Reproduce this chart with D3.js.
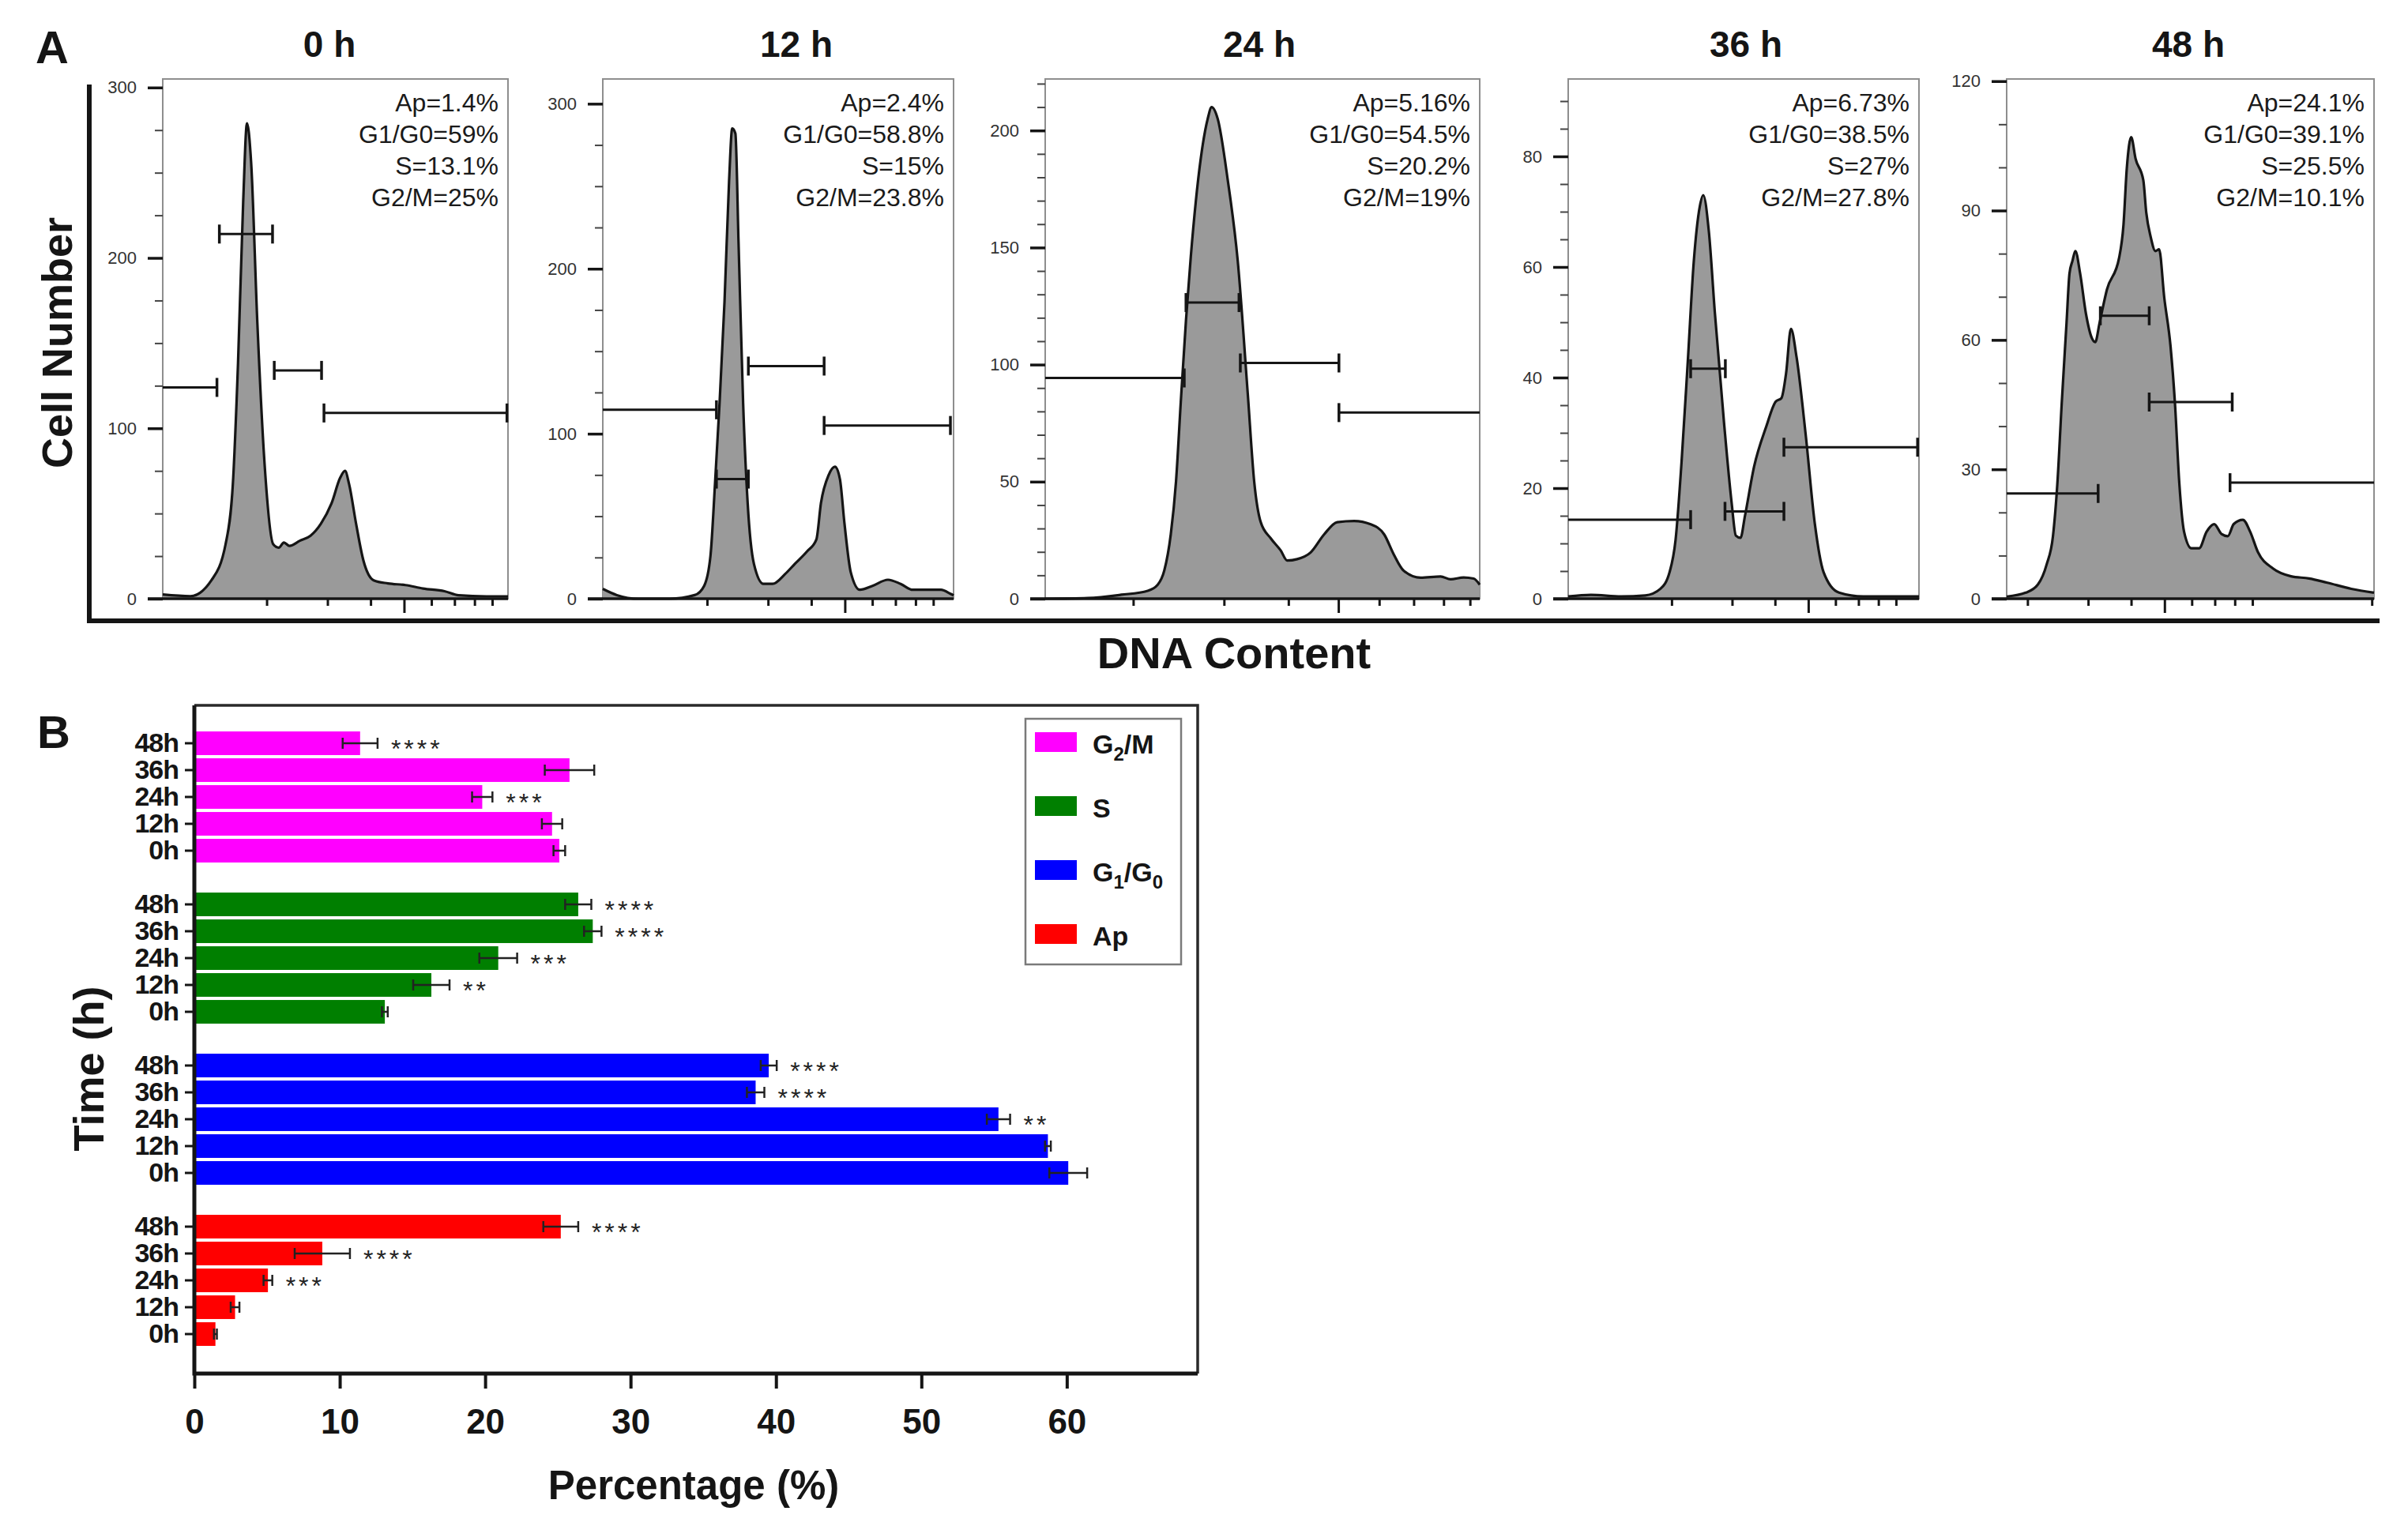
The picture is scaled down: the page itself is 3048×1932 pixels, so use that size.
<!DOCTYPE html>
<html>
<head>
<meta charset="utf-8">
<script src="https://cdn.jsdelivr.net/npm/d3@7"></script>
<style>
body { margin: 0; background: #fff; }
text { font-family: "Liberation Sans", Arial, Helvetica, sans-serif; }
</style>
</head>
<body>
<div id="chart"></div>
<script>
// ---------- data: panel A (flow cytometry histograms) ----------
// x = channel 0-1000 (log display), y = cell count
const timeLabels = ["0 h", "12 h", "24 h", "36 h", "48 h"];

const hist0h = [[0,2.5],[80,1.5],[141,10.8],[182,32],[203,67],[218,138],[233,233],[244,279],[256,256],[274,162],[295,79],[320,32],[336,30],[351,33],[367,31],[397,34],[428,37],[458,44],[489,56],[514,71],[528,75],[540,67],[560,44],[581,22.6],[611,10.8],[652,9],[703,8],[754,6],[816,4.4],[857,2],[938,1.4],[1000,1.4]];
const hist12h = [[0,6],[40,2.2],[102,0],[191,0],[262,2.2],[289,7.8],[307,26],[320,70],[333,119],[347,180],[360,253],[369,285],[378,282],[387,216],[400,119],[413,58],[431,21],[458,9],[484,9],[520,15],[547,21],[582,28.6],[609,36],[622,58],[644,75],[662,80],[676,72.5],[689,45.6],[707,16],[733,5.4],[769,7.8],[813,11.5],[849,9],[884,5.4],[929,5.4],[964,5.4],[991,3],[1000,2]];
const hist24h = [[0,0],[98,0.3],[175,1.7],[236,3.4],[259,6],[274,12],[289,27.5],[301,50],[312,84],[324,119],[335,146],[358,188],[374,205],[383,210],[397,205],[420,179],[443,144.5],[466,88],[481,50],[496,32.7],[519,25.8],[542,20.6],[557,16.3],[580,16.9],[611,19.8],[642,27.5],[672,32.7],[711,33.2],[749,31.8],[780,27.5],[802,19],[825,12],[864,9],[910,9.5],[933,8.3],[963,9.1],[986,8.6],[1000,6]];
const hist36h = [[0,0.4],[65,0.7],[151,0.4],[220,0.6],[263,1.8],[289,4.8],[306,10.6],[323,24.6],[341,43],[358,61],[375,70.9],[385,73],[401,66.4],[418,51.8],[444,32],[466,17.3],[478,11.4],[491,11],[504,15],[530,23.9],[565,31.2],[591,35.6],[608,36.3],[621,40.7],[635,48.8],[651,43.7],[677,29.7],[703,13.6],[728,4.8],[772,1.1],[841,0.4],[1000,0.4]];
const hist48h = [[0,0.5],[52,1.4],[85,3.3],[109,8],[126,14.5],[138,26.7],[150,45.5],[163,64],[171,75.4],[179,78.3],[187,80.6],[200,75.4],[216,66],[232,60.4],[241,59.5],[253,64],[273,71.7],[306,79],[318,86.7],[327,99.8],[339,107],[351,102],[372,97],[380,89.5],[392,83.9],[405,80.6],[415,81],[429,69.8],[446,58.6],[458,45.5],[470,26.7],[483,15.5],[503,11.7],[524,11.7],[544,15.5],[565,17.3],[585,15],[602,14.5],[618,17.3],[643,18.3],[663,15.5],[684,10.8],[725,7],[774,5.2],[823,4.7],[873,3.7],[938,2.3],[1000,1.4]];

// gates: [start channel, end channel, height in counts]  (Ap, G1/G0, S, G2/M)
const gates0h = [[0,157,124],[164,318,214],[323,460,134],[467,997,109]];
const gates12h = [[0,324,114.5],[324,415,72.5],[415,631,141],[631,991,105]];
const gates24h = [[0,320,94.3],[324,446,126.5],[449,676,100.7],[676,1000,79.5]];
const gates36h = [[0,349,14.3],[349,448,41.6],[447,615,15.8],[615,996,27.4]];
const gates48h = [[0,249,24.4],[255,388,65.6],[388,614,45.6],[608,1000,26.9]];

const stats0h = ["Ap=1.4%", "G1/G0=59%", "S=13.1%", "G2/M=25%"];
const stats12h = ["Ap=2.4%", "G1/G0=58.8%", "S=15%", "G2/M=23.8%"];
const stats24h = ["Ap=5.16%", "G1/G0=54.5%", "S=20.2%", "G2/M=19%"];
const stats36h = ["Ap=6.73%", "G1/G0=38.5%", "S=27%", "G2/M=27.8%"];
const stats48h = ["Ap=24.1%", "G1/G0=39.1%", "S=25.5%", "G2/M=10.1%"];

const yMaxA = [305, 315, 222, 94, 120.5];
const yTicksA = [[0,100,200,300],[0,100,200,300],[0,50,100,150,200],[0,20,40,60,80],[0,30,60,90,120]];
const yMinorStepA = [25, 25, 10, 5, 10];
const dnaDomain = [[1,10],[1,10.3],[1.35,9.4],[1,10.5],[1.74,20.3]];
const dnaTicks = [2,3,4,5,6,7,8,9,20];

// ---------- data: panel B (percentages, mean and error) ----------
const timesB = ["48h", "36h", "24h", "12h", "0h"];
const phaseKeys = ["G2/M", "S", "G1/G0", "Ap"];
const g2mMean = [11.4, 25.8, 19.8, 24.6, 25.1];
const g2mErr = [1.2, 1.7, 0.7, 0.7, 0.4];
const g2mStars = ["****", "", "***", "", ""];
const sMean = [26.4, 27.4, 20.9, 16.3, 13.1];
const sErr = [0.9, 0.6, 1.3, 1.25, 0.2];
const sStars = ["****", "****", "***", "**", ""];
const g1Mean = [39.5, 38.6, 55.3, 58.7, 60.1];
const g1Err = [0.55, 0.6, 0.8, 0.2, 1.3];
const g1Stars = ["****", "****", "**", "", ""];
const apMean = [25.2, 8.8, 5.06, 2.8, 1.45];
const apErr = [1.2, 1.9, 0.3, 0.3, 0.1];
const apStars = ["****", "****", "***", "", ""];
const xTicksB = [0, 10, 20, 30, 40, 50, 60];

// ---------- layout / style ----------
const svgWidth = 3048, svgHeight = 1932;
const boxTop = 100, boxBottom = 758;
const boxesA = [
    { x0: 206, x1: 643, tx: 417 },
    { x0: 763, x1: 1207, tx: 1008 },
    { x0: 1323, x1: 1873, tx: 1594 },
    { x0: 1985, x1: 2429, tx: 2210 },
    { x0: 2540, x1: 3005, tx: 2770 }
];
const phaseColors = ["#ff00ff", "#007f00", "#0000ff", "#ff0000"];
const ink = "#151515";

let svg = d3.select("#chart").append("svg")
    .attr("width", svgWidth)
    .attr("height", svgHeight)
    .style("background", "#fff");

// ================= panel A =================
const histsA = [hist0h, hist12h, hist24h, hist36h, hist48h];
const gatesA = [gates0h, gates12h, gates24h, gates36h, gates48h];
const statsA = [stats0h, stats12h, stats24h, stats36h, stats48h];

boxesA.forEach((b, i) => {
    let g = svg.append("g");
    let x = d3.scaleLinear().domain([0, 1000]).range([b.x0, b.x1]);
    let xLog = d3.scaleLog().domain(dnaDomain[i]).range([b.x0, b.x1]);
    let y = d3.scaleLinear().domain([0, yMaxA[i]]).range([boxBottom, boxTop]);

    // frame
    g.append("rect")
        .attr("x", b.x0).attr("y", boxTop)
        .attr("width", b.x1 - b.x0).attr("height", boxBottom - boxTop)
        .attr("fill", "none").attr("stroke", "#8e8e8e").attr("stroke-width", 2);

    // histogram
    let area = d3.area()
        .x((d) => x(d[0])).y0(y(0)).y1((d) => y(d[1]))
        .curve(d3.curveMonotoneX);
    let line = d3.line()
        .x((d) => x(d[0])).y((d) => y(d[1]))
        .curve(d3.curveMonotoneX);
    g.append("path").datum(histsA[i]).attr("d", area).attr("fill", "#9a9a9a");
    g.append("path").datum(histsA[i]).attr("d", line)
        .attr("fill", "none").attr("stroke", ink).attr("stroke-width", 3.2)
        .attr("stroke-linejoin", "round");

    // gates
    gatesA[i].forEach((gt) => {
        let gy = y(gt[2]);
        g.append("line")
            .attr("x1", x(gt[0])).attr("x2", x(gt[1]))
            .attr("y1", gy).attr("y2", gy)
            .attr("stroke", ink).attr("stroke-width", 3);
        [gt[0], gt[1]].filter((c) => c > 0 && c < 1000).forEach((c) => {
            g.append("line")
                .attr("x1", x(c)).attr("x2", x(c))
                .attr("y1", gy - 12).attr("y2", gy + 12)
                .attr("stroke", ink).attr("stroke-width", 3.5);
        });
    });

    // y axis: major + minor ticks
    let minor = d3.range(0, yMaxA[i], yMinorStepA[i]).filter((v) => !yTicksA[i].includes(v));
    let yMinorAxis = g.append("g")
        .attr("transform", `translate(${b.x0},0)`)
        .call(d3.axisLeft(y).tickValues(minor).tickSize(10).tickFormat(""));
    yMinorAxis.select(".domain").remove();
    yMinorAxis.selectAll("text").remove();
    yMinorAxis.selectAll("line").attr("stroke", "#444").attr("stroke-width", 2);

    let yAxis = g.append("g")
        .attr("transform", `translate(${b.x0},0)`)
        .call(d3.axisLeft(y).tickValues(yTicksA[i]).tickSize(19).tickPadding(14));
    yAxis.select(".domain").remove();
    yAxis.selectAll("line").attr("stroke", ink).attr("stroke-width", 3.5);
    yAxis.selectAll("text")
        .attr("font-size", 22).attr("fill", "#333")
        .attr("font-family", '"Liberation Sans", Arial, sans-serif');

    // x axis (log display)
    let xAxis = g.append("g")
        .attr("transform", `translate(0,${boxBottom})`)
        .call(d3.axisBottom(xLog)
            .tickValues(dnaTicks.filter((v) => v > dnaDomain[i][0] && v <= dnaDomain[i][1]))
            .tickSize(9).tickFormat(""));
    xAxis.select(".domain").remove();
    xAxis.selectAll("text").remove();
    xAxis.selectAll("line").attr("stroke", ink).attr("stroke-width", 3);
    xAxis.selectAll(".tick").filter((d) => d === 5).select("line").attr("y2", 18);

    g.append("line")
        .attr("x1", b.x0 - 19).attr("x2", b.x1)
        .attr("y1", boxBottom).attr("y2", boxBottom)
        .attr("stroke", ink).attr("stroke-width", 3.5);

    // stats text
    g.selectAll(".stat")
        .data(statsA[i])
        .join("text")
        .attr("x", b.x1 - 12)
        .attr("y", (d, k) => 141 + k * 40)
        .attr("text-anchor", "end")
        .attr("font-size", 32)
        .attr("fill", "#1a1a1a")
        .text((d) => d);

    // title
    g.append("text")
        .attr("x", b.tx).attr("y", 72)
        .attr("text-anchor", "middle")
        .attr("font-size", 46).attr("font-weight", "bold")
        .attr("fill", ink)
        .text(timeLabels[i]);
});

// big axes of panel A
svg.append("path")
    .attr("d", "M113,107 V786 H3012")
    .attr("fill", "none").attr("stroke", ink).attr("stroke-width", 6);
svg.append("text")
    .attr("x", 66).attr("y", 80)
    .attr("text-anchor", "middle")
    .attr("font-size", 58).attr("font-weight", "bold").attr("fill", ink)
    .text("A");
svg.append("text")
    .attr("transform", "translate(91,434) rotate(-90)")
    .attr("text-anchor", "middle")
    .attr("font-size", 54).attr("font-weight", "bold").attr("fill", ink)
    .text("Cell Number");
svg.append("text")
    .attr("x", 1562).attr("y", 846)
    .attr("text-anchor", "middle")
    .attr("font-size", 56).attr("font-weight", "bold").attr("fill", ink)
    .text("DNA Content");

// ================= panel B =================
const meansB = [g2mMean, sMean, g1Mean, apMean];
const errsB = [g2mErr, sErr, g1Err, apErr];
const starsB = [g2mStars, sStars, g1Stars, apStars];

let barData = [];
let bandKeys = [];
phaseKeys.forEach((p, pi) => {
    timesB.forEach((t, ti) => {
        let key = p + "|" + t;
        bandKeys.push(key);
        barData.push({ key: key, phase: pi, time: t, mean: meansB[pi][ti], err: errsB[pi][ti], stars: starsB[pi][ti] });
    });
    bandKeys.push(p + "|gap");
});

const plotLeft = 246, plotRight = 1516, plotTop = 893, plotBottom = 1739;
let xB = d3.scaleLinear().domain([0, 69]).range([plotLeft, plotRight]);
let yB = d3.scaleBand().domain(bandKeys).range([924, 1740]).paddingInner(0.12).paddingOuter(0.06);

let gB = svg.append("g");

// frame (top and right)
gB.append("path")
    .attr("d", `M${plotLeft},${plotTop} H${plotRight} V${plotBottom}`)
    .attr("fill", "none").attr("stroke", "#2a2a2a").attr("stroke-width", 3.5);

// bars
gB.selectAll(".bar")
    .data(barData)
    .join("rect")
    .attr("x", xB(0))
    .attr("y", (d) => yB(d.key))
    .attr("width", (d) => xB(d.mean) - xB(0))
    .attr("height", yB.bandwidth())
    .attr("fill", (d) => phaseColors[d.phase]);

// error bars + significance stars
barData.forEach((d) => {
    let cy = yB(d.key) + yB.bandwidth() / 2;
    let xa = xB(d.mean - d.err), xb = xB(d.mean + d.err);
    gB.append("line")
        .attr("x1", xa).attr("x2", xb).attr("y1", cy).attr("y2", cy)
        .attr("stroke", "#222").attr("stroke-width", 2.5);
    [xa, xb].forEach((xe) => {
        gB.append("line")
            .attr("x1", xe).attr("x2", xe).attr("y1", cy - 7).attr("y2", cy + 7)
            .attr("stroke", "#222").attr("stroke-width", 2.5);
    });
    if (d.stars) {
        gB.append("text")
            .attr("x", xb + 17)
            .attr("y", cy + 18)
            .attr("font-size", 32)
            .attr("letter-spacing", 4)
            .attr("fill", "#222")
            .text(d.stars);
    }
});

// axes
let yAxisB = gB.append("g")
    .attr("transform", `translate(${plotLeft},0)`)
    .call(d3.axisLeft(yB)
        .tickValues(bandKeys.filter((k) => !k.endsWith("gap")))
        .tickFormat((k) => k.split("|")[1])
        .tickSize(12).tickPadding(8));
yAxisB.select(".domain").remove();
yAxisB.selectAll("line").attr("stroke", ink).attr("stroke-width", 3);
yAxisB.selectAll("text")
    .attr("font-size", 34).attr("font-weight", "bold").attr("fill", ink)
    .attr("letter-spacing", -1)
    .attr("font-family", '"Liberation Sans", Arial, sans-serif');

let xAxisB = gB.append("g")
    .attr("transform", `translate(0,${plotBottom})`)
    .call(d3.axisBottom(xB).tickValues(xTicksB).tickSize(19).tickPadding(26));
xAxisB.select(".domain").remove();
xAxisB.selectAll("line").attr("stroke", ink).attr("stroke-width", 4);
xAxisB.selectAll("text")
    .attr("font-size", 44).attr("font-weight", "bold").attr("fill", ink)
    .attr("font-family", '"Liberation Sans", Arial, sans-serif');

gB.append("path")
    .attr("d", `M${plotLeft},${plotTop} V${plotBottom} H${plotRight}`)
    .attr("fill", "none").attr("stroke", ink).attr("stroke-width", 5);

// legend
const legendLabels = [[["G", 0], ["2", 1], ["/M", 0]], [["S", 0]], [["G", 0], ["1", 1], ["/G", 0], ["0", 1]], [["Ap", 0]]];
let legend = gB.append("g");
legend.append("rect")
    .attr("x", 1298).attr("y", 910).attr("width", 197).attr("height", 311)
    .attr("fill", "#fff").attr("stroke", "#7a7a7a").attr("stroke-width", 2.5);
phaseKeys.forEach((p, i) => {
    let ly = 927 + i * 81;
    legend.append("rect")
        .attr("x", 1310).attr("y", ly).attr("width", 53).attr("height", 25)
        .attr("fill", phaseColors[i]);
    let t = legend.append("text")
        .attr("x", 1383).attr("y", ly + 27)
        .attr("font-size", 34).attr("font-weight", "bold").attr("fill", ink);
    let shifted = false;
    legendLabels[i].forEach((part) => {
        let ts = t.append("tspan").text(part[0]);
        if (part[1] && !shifted) { ts.attr("dy", 9).attr("font-size", 24); shifted = true; }
        else if (part[1]) { ts.attr("font-size", 24); }
        else if (shifted) { ts.attr("dy", -9); shifted = false; }
    });
});

// labels
svg.append("text")
    .attr("x", 68).attr("y", 947)
    .attr("text-anchor", "middle")
    .attr("font-size", 58).attr("font-weight", "bold").attr("fill", ink)
    .text("B");
svg.append("text")
    .attr("transform", "translate(131,1353) rotate(-90)")
    .attr("text-anchor", "middle")
    .attr("font-size", 54).attr("font-weight", "bold").attr("fill", ink)
    .text("Time (h)");
svg.append("text")
    .attr("x", 878).attr("y", 1898)
    .attr("text-anchor", "middle")
    .attr("font-size", 51).attr("font-weight", "bold").attr("fill", ink)
    .text("Percentage (%)");
</script>
</body>
</html>
